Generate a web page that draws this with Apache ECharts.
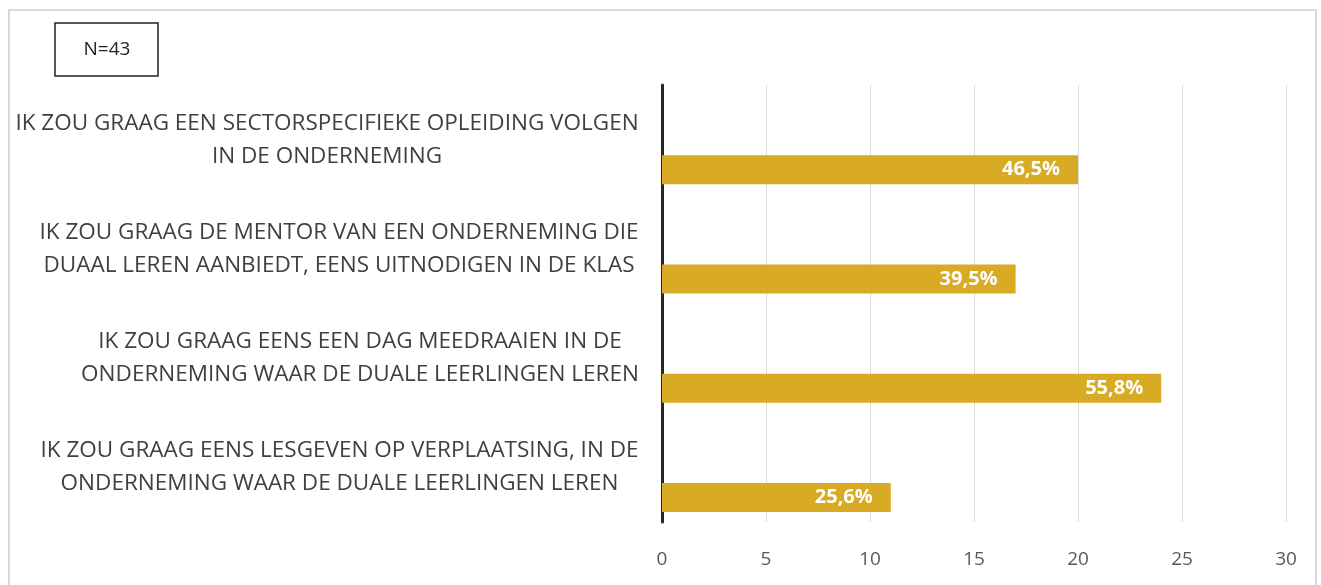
<!DOCTYPE html>
<html>
<head>
<meta charset="utf-8">
<script src="https://cdn.jsdelivr.net/npm/echarts@6/dist/echarts.min.js"></script>
<style>
  html, body { margin: 0; padding: 0; background: #fff; }
  #chart { width: 1321px; height: 585px; }
</style>
</head>
<body>
<div id="chart"></div>
<script>
// data (N=43 respondents)
var categories = [
  'IK ZOU GRAAG EEN SECTORSPECIFIEKE OPLEIDING VOLGEN\nIN DE ONDERNEMING',
  'IK ZOU GRAAG DE MENTOR VAN EEN ONDERNEMING DIE\nDUAAL LEREN AANBIEDT, EENS UITNODIGEN IN DE KLAS',
  'IK ZOU GRAAG EENS EEN DAG MEEDRAAIEN IN DE\nONDERNEMING WAAR DE DUALE LEERLINGEN LEREN',
  'IK ZOU GRAAG EENS LESGEVEN OP VERPLAATSING, IN DE\nONDERNEMING WAAR DE DUALE LEERLINGEN LEREN'
];
var counts = [20, 17, 24, 11];
var percentLabels = ['46,5%', '39,5%', '55,8%', '25,6%'];
var xTicks = [0, 5, 10, 15, 20, 25, 30];

var labelFont = 'Open Sans';
var labelSize = 22.5;

// each label block is as wide as its longest line, lines centred inside it
var ctx = document.createElement('canvas').getContext('2d');
ctx.font = labelSize + 'px "' + labelFont + '"';
var rich = {};
categories.forEach(function (c, i) {
  var w = Math.max.apply(null, c.split('\n').map(function (s) { return ctx.measureText(s).width; }));
  rich['c' + i] = { width: Math.ceil(w) + 2, align: 'center', fontSize: labelSize,
                    color: '#404040', lineHeight: 33, fontFamily: labelFont };
});

var myChart = echarts.init(document.getElementById('chart'));

var option = {
  backgroundColor: '#fff',
  animation: false,
  textStyle: { fontFamily: 'Open Sans' },
  graphic: [
    // outer frame of the chart
    { type: 'rect', shape: { x: 9, y: 10, width: 1307, height: 620 },
      style: { fill: 'none', stroke: '#d9d9d9', lineWidth: 2 }, silent: true },
    // N=43 box
    { type: 'rect', shape: { x: 55, y: 23, width: 103, height: 53 },
      style: { fill: '#fff', stroke: '#222', lineWidth: 1.5 } },
    { type: 'text', x: 107, y: 50,
      style: { text: 'N=43', fontSize: 19, fontFamily: 'Open Sans', fill: '#222',
               textAlign: 'center', textVerticalAlign: 'middle' } }
  ],
  grid: { left: 662, right: 35, top: 85, bottom: 63 },
  xAxis: {
    type: 'value',
    min: xTicks[0],
    max: xTicks[xTicks.length - 1],
    interval: 5,
    axisLine: { show: false },
    axisTick: { show: false },
    axisLabel: { color: '#595959', fontSize: 19, margin: 28 },
    splitLine: { lineStyle: { color: '#d9d9d9', width: 1 } }
  },
  yAxis: {
    type: 'category',
    inverse: true,
    data: categories,
    axisLine: { show: true, lineStyle: { color: '#262626', width: 3 } },
    axisTick: { show: false },
    axisLabel: {
      margin: 22,
      align: 'right',
      formatter: function (v, idx) {
        return v.split('\n').map(function (s) { return '{c' + idx + '|' + s + '}'; }).join('\n');
      },
      rich: rich
    }
  },
  series: [
    {
      // empty slot so the bar sits in the lower half of each band
      name: 'leeg',
      type: 'bar',
      data: counts.map(function () { return null; }),
      barWidth: 29,
      barGap: '107%'
    },
    {
      name: 'aantal',
      type: 'bar',
      data: counts,
      barWidth: 29,
      barGap: '107%',
      itemStyle: { color: '#D9AA24' },
      label: {
        show: true,
        position: 'insideRight',
        distance: 18,
        color: '#fff',
        fontWeight: 'bold',
        fontSize: 20,
        fontFamily: 'Open Sans',
        formatter: function (p) { return percentLabels[p.dataIndex]; }
      }
    }
  ]
};

myChart.setOption(option);
</script>
</body>
</html>
